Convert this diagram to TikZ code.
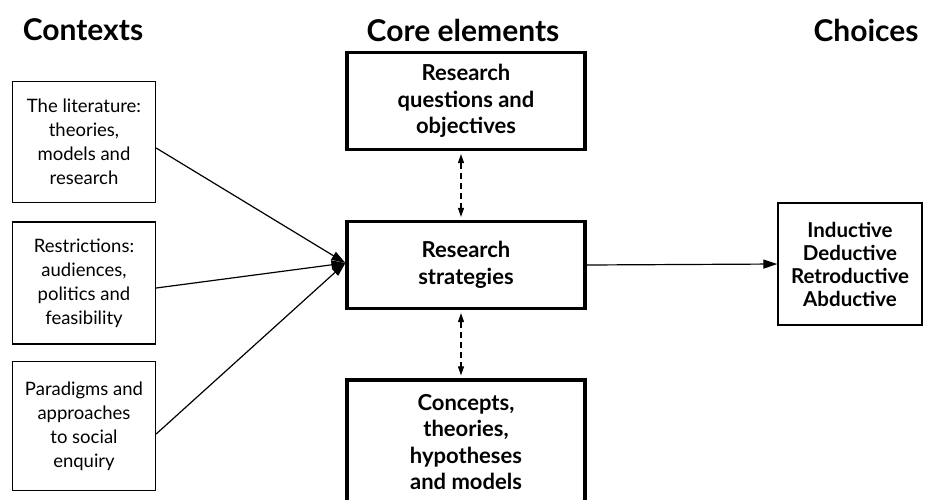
\documentclass[tikz,border=0pt]{standalone}
\usepackage{fontspec}
\setmainfont{Lato}
\usetikzlibrary{arrows.meta}
\tikzstyle{heading}=[font=\fontsize{30}{34}\selectfont\bfseries,inner sep=0pt]
\tikzstyle{context}=[draw,line width=1.3pt,minimum width=143pt,align=center,
inner sep=0pt,font=\fontsize{18.5}{24}\selectfont]
\tikzstyle{core}=[draw,line width=3.2pt,minimum width=238pt,align=center,
inner sep=0pt,font=\fontsize{22}{26.5}\selectfont\bfseries]
\tikzstyle{choice}=[draw,line width=1.3pt,minimum width=144pt,align=center,
inner sep=0pt,font=\fontsize{20.5}{23}\selectfont\bfseries]
\tikzstyle{arrow}=[-{Triangle[length=14pt,width=9pt]},line width=1.2pt]
\tikzstyle{link}=[{Triangle[length=9pt,width=6pt]}-{Triangle[length=9pt,width=6pt]},
dash pattern=on 6pt off 4pt,line width=1.2pt,shorten <=3pt,shorten >=3pt]

\begin{document}
\begin{tikzpicture}[x=1pt,y=-1pt]
	\useasboundingbox (0,0) rectangle (925,499);

	%headings
	\node[heading] (hctx) at (83,30) {Contexts};
	\node[heading] (hcore) at (463,30) {Core elements};
	\node[heading] (hchoice) at (866,30) {Choices};

	%contexts
	\node[context,minimum height=121pt] (lit) at (84,142)
	{The literature:\\ theories,\\ models and\\ research};
	\node[context,minimum height=122pt] (restr) at (84,283)
	{Restrictions:\\ audiences,\\ politics and\\ feasibility};
	\node[context,minimum height=129pt] (para) at (84,426)
	{Paradigms and\\ approaches\\ to social\\ enquiry};

	%core elements
	\node[core,minimum height=97pt] (rq) at (466,101)
	{Research\\ questions and\\ objectives};
	\node[core,minimum height=87pt] (strat) at (466,265)
	{Research\\ strategies};
	\node[core,minimum height=124pt] (conc) at (466,442)
	{Concepts,\\ theories,\\ hypotheses\\ and models};

	%choices
	\node[choice,minimum height=122pt] (strat choice) at (850,264)
	{Inductive\\ Deductive\\ Retroductive\\ Abductive};

	%arrows
	\draw[arrow] ([yshift=-6pt]lit.east) -- ([yshift=2pt]strat.west);
	\draw[arrow] ([yshift=-5pt]restr.east) -- ([yshift=2pt]strat.west);
	\draw[arrow] ([yshift=-8pt]para.east) -- ([yshift=2pt]strat.west);
	\draw[arrow] (strat.east) -- (strat choice.west);
	\draw[link] ([xshift=-5pt]rq.south) -- ([xshift=-5pt]strat.north);
	\draw[link] ([xshift=-5pt]strat.south) -- ([xshift=-5pt]conc.north);
\end{tikzpicture}
\end{document}
